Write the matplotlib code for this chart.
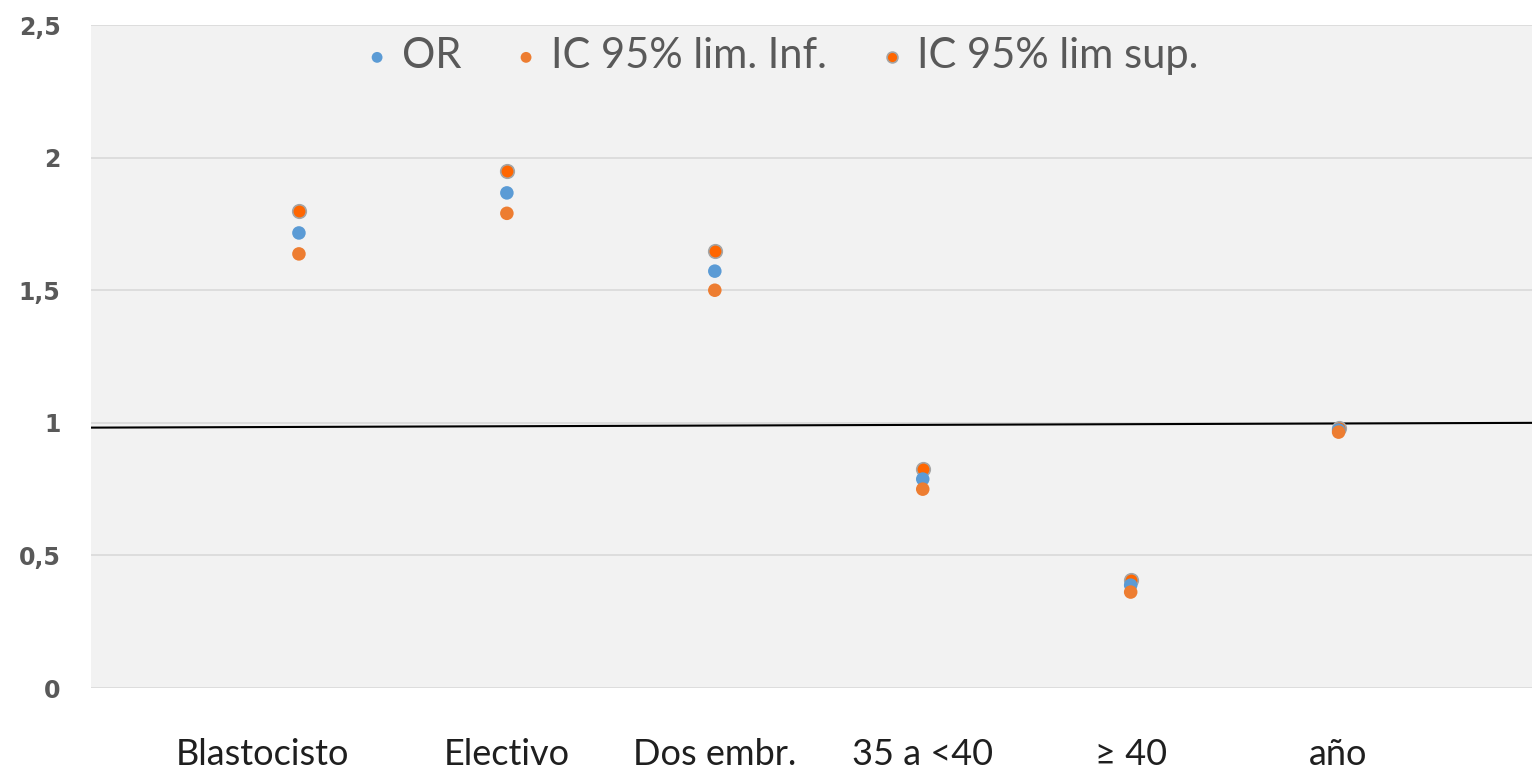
import matplotlib.pyplot as plt
import matplotlib.transforms as mtransforms

# Data
categories = ['Blastocisto', 'Electivo', 'Dos embr.', '35 a <40', '≥ 40', 'año']
or_vals = [1.716, 1.867, 1.572, 0.788, 0.388, 0.973]
ic_inf = [1.637, 1.790, 1.500, 0.750, 0.362, 0.965]
ic_sup = [1.800, 1.950, 1.648, 0.826, 0.407, 0.980]
y_ticks = [0, 0.5, 1, 1.5, 2, 2.5]
y_tick_labels = ['0', '0,5', '1', '1,5', '2', '2,5']
# reference line (drawn slightly tilted in the original)
ref_line_x = [0, 6.93]
ref_line_y = [0.982, 1.0]

fig = plt.figure(figsize=(15.32, 7.74), dpi=100)
ax = fig.add_axes([0.0594, 0.111, 0.9406, 0.8567])
ax.set_facecolor('#F2F2F2')

x = list(range(1, len(categories) + 1))

ax.plot(ref_line_x, ref_line_y, color='black', linewidth=1.5, zorder=2)

ax.scatter(x, ic_sup, s=95, color='#FF6600', edgecolors='#A5A5A5', linewidths=1.2,
           label='IC 95% lim sup.', zorder=3)
ax.scatter(x, or_vals, s=95, color='#5B9BD5', edgecolors='none', label='OR', zorder=4)
ax.scatter(x, ic_inf, s=95, color='#ED7D31', edgecolors='none', label='IC 95% lim. Inf.', zorder=5)

ax.set_xlim(0, 6.93)
ax.set_ylim(0, 2.5)
ax.set_xticks(x)
ax.set_xticklabels(categories, fontsize=26, color='#1F1F1F', family=['Lato', 'DejaVu Sans'])
ax.set_yticks(y_ticks)
ax.set_yticklabels(y_tick_labels, fontsize=17, fontweight='bold', color='#595959')
ax.tick_params(axis='x', length=0, pad=36)
ax.tick_params(axis='y', length=0, pad=22)

# first label sits a bit left of its category in the original
first = ax.get_xticklabels()[0]
first.set_transform(first.get_transform() +
                    mtransforms.ScaledTranslation(-0.36, 0, fig.dpi_scale_trans))

ax.grid(axis='y', color='#D9D9D9', linewidth=1.2)
ax.set_axisbelow(True)
for s in ax.spines.values():
    s.set_visible(False)

handles, labels = ax.get_legend_handles_labels()
order = [1, 2, 0]
leg = ax.legend([handles[i] for i in order], [labels[i] for i in order],
                loc='upper center', bbox_to_anchor=(0.479, 1.038), ncol=3, frameon=False,
                prop={'family': 'Lato', 'size': 30}, labelcolor='#595959',
                markerscale=0.8, handlelength=0.6, handletextpad=0.3, columnspacing=1.25)

fig.savefig('out.png', dpi=100, facecolor='white')
